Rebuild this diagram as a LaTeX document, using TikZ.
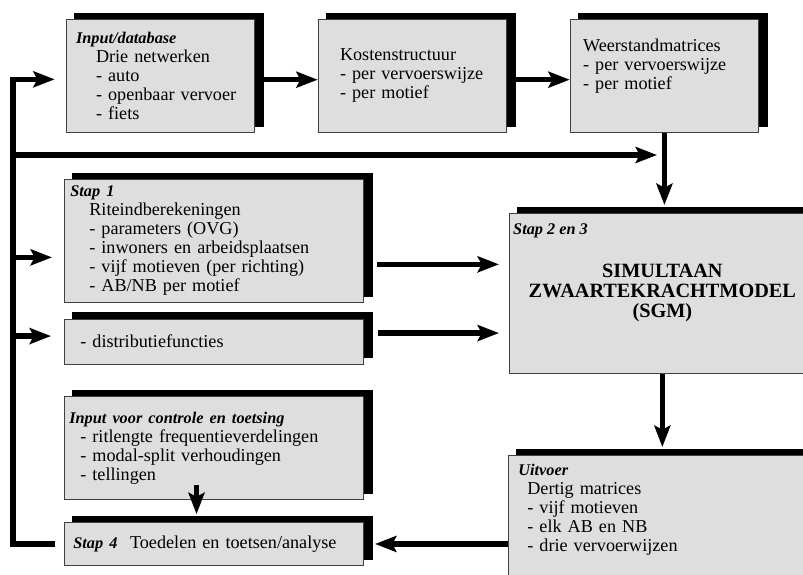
\documentclass[tikz,border=0pt]{standalone}
\usepackage{fontspec}
\setmainfont{Liberation Serif}
\usepackage{tikz}
\usetikzlibrary{arrows.meta, positioning, calc, shadows}
\newcommand{\kop}[1]{{\fontsize{13.9}{16.2}\selectfont\bfseries\itshape #1}}
\tikzset{
	blk/.style ={rectangle, anchor=north west, draw=black!75, line width=0.6pt, fill=black!13, align=left, font=\fontsize{15.5}{16.2}\selectfont, copy shadow={shadow xshift=0.25cm, shadow yshift=0.19cm, fill=black, draw=black}},
	kolom/.style={blk, minimum width=8.98cm},
	flow/.style ={-{Stealth[length=6.4mm, width=4.8mm, inset=1.2mm]}, line width=4.4pt},
}
\begin{document}
\begin{tikzpicture}
	\useasboundingbox (0,-17.22) rectangle (24.09,0);
	\clip (0,-17.22) rectangle (24.09,0);
	% bovenste rij
	\node[blk, minimum width=5.66cm, minimum height=3.39cm, inner xsep=0.3cm, text width=5.06cm] (inp) at (1.97,-0.57)
		{\kop{Input/database}\\ \hspace*{0.6cm}Drie netwerken\\ \hspace*{0.6cm}- auto\\ \hspace*{0.6cm}- openbaar vervoer\\ \hspace*{0.6cm}- fiets};
	\node[blk, minimum width=5.66cm, minimum height=3.39cm, inner xsep=0.66cm, text width=4.34cm, right=1.88cm of inp] (kost)
		{Kostenstructuur\\ - per vervoerswijze\\ - per motief};
	\node[blk, minimum width=5.66cm, minimum height=3.39cm, inner xsep=0.39cm, text width=4.88cm, text depth=1.86cm, right=1.88cm of kost] (weer)
		{Weerstandmatrices\\ - per vervoerswijze\\ - per motief};
	% linker kolom
	\node[kolom, minimum height=3.69cm, inner xsep=0.18cm, text width=8.62cm] (st1) at (1.92,-5.37)
		{\kop{Stap 1}\\ \hspace*{0.57cm}Riteindberekeningen\\ \hspace*{0.57cm}- parameters (OVG)\\ \hspace*{0.57cm}- inwoners en arbeidsplaatsen\\ \hspace*{0.57cm}- vijf motieven (per richting)\\ \hspace*{0.57cm}- AB/NB per motief};
	\node[kolom, minimum height=1.35cm, inner xsep=0.48cm, text width=8.02cm, below=0.48cm of st1] (dist)
		{- distributiefuncties};
	\node[kolom, minimum height=3.09cm, inner xsep=0.15cm, text width=8.68cm, below=0.96cm of dist] (ctl)
		{\kop{Input voor controle en toetsing}\\ \hspace*{0.33cm}- ritlengte frequentieverdelingen\\ \hspace*{0.33cm}- modal-split verhoudingen\\ \hspace*{0.33cm}- tellingen};
	\node[kolom, minimum height=1.29cm, inner xsep=0.27cm, text width=8.44cm, below=0.66cm of ctl] (st4)
		{\kop{Stap 4}\hspace{0.38cm}Toedelen en toetsen/analyse};
	% rechter kolom
	\node[blk, minimum width=9.18cm, minimum height=4.8cm, inner xsep=0.19cm, text width=8.8cm, align=center, font=\fontsize{17.3}{17}\selectfont\bfseries,
		label={[anchor=north west, inner xsep=0.12cm, inner ysep=0.3cm]north west:\kop{Stap 2 en 3}}] (sgm) at (15.27,-6.39)
		{SIMULTAAN\\ ZWAARTEKRACHTMODEL\\ (SGM)};
	\node[blk, minimum width=9.21cm, minimum height=3.75cm, inner xsep=0.3cm, text width=8.61cm, text depth=2.9cm] (uit) at (15.24,-13.65)
		{\kop{Uitvoer}\\ \hspace*{0.27cm}Dertig matrices\\ \hspace*{0.27cm}- vijf motieven\\ \hspace*{0.27cm}- elk AB en NB\\ \hspace*{0.27cm}- drie vervoerwijzen};
	% verbindingen
	\coordinate (bustop) at (0.39,-2.38);
	\coordinate (tsgm) at (19.71,-4.65);
	\coordinate (tst1) at ([shift={(-0.36,-0.495)}]st1.west);
	\coordinate (tdist) at ([shift={(-0.39,0.165)}]dist.west);
	\draw[flow] ([xshift=-0.27cm]st4.west) -| (bustop) -- ($(bustop -| inp.west)+(-0.33,0)$);
	\draw[flow] ([yshift=-0.115cm]inp.east) -- ([yshift=-0.115cm]kost.west);
	\draw[flow] ([yshift=-0.115cm]kost.east) -- ([yshift=-0.115cm]weer.west);
	\draw[flow] (bustop |- tsgm) -- (tsgm);
	\draw[flow] (weer.south) -- ([yshift=0.24cm]weer.south |- sgm.north);
	\draw[flow] (bustop |- tst1) -- (tst1);
	\draw[flow] (bustop |- tdist) -- (tdist);
	\draw[flow] ([shift={(0.39,-0.705)}]st1.east) coordinate (s1) -- ($(sgm.west |- s1)+(-0.3,0)$);
	\draw[flow] ([shift={(0.42,0.255)}]dist.east) coordinate (s2) -- ($(sgm.west |- s2)+(-0.3,0)$);
	\draw[flow] ([shift={(-0.525,0.45)}]ctl.south) -- ([shift={(-0.525,0.24)}]st4.north);
	\draw[flow] (sgm.south) -- ([yshift=0.24cm]sgm.south |- uit.north);
	\draw[flow] (uit.west |- st4.east) -- ([xshift=0.33cm]st4.east);
\end{tikzpicture}
\end{document}
